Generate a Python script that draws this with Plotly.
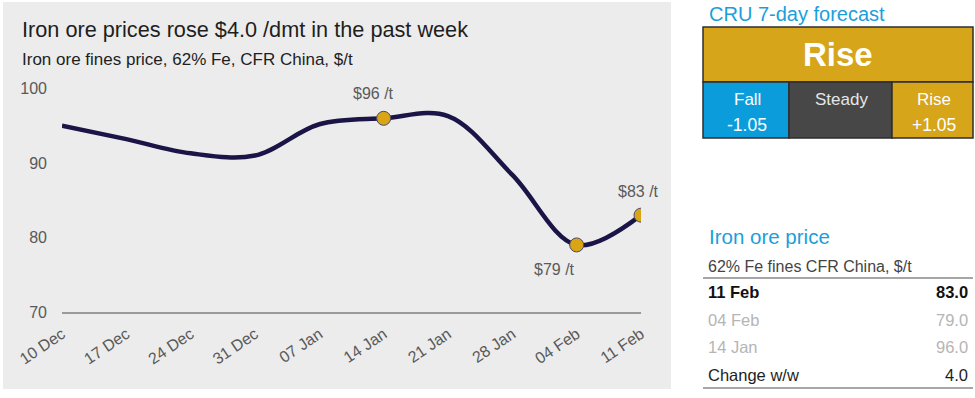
import plotly.graph_objects as go

# ---- data ----
weeks = ["10 Dec", "17 Dec", "24 Dec", "31 Dec", "07 Jan", "14 Jan", "21 Jan", "28 Jan", "04 Feb", "11 Feb"]
price = [95.0, 93.2, 91.3, 91.0, 95.2, 96.0, 96.3, 88.4, 79.0, 83.0]
marked_weeks = ["14 Jan", "04 Feb", "11 Feb"]
marked_labels = ["$96 /t", "$79 /t", "$83 /t"]
y_ticks = [70, 80, 90, 100]

title = "Iron ore prices rose $4.0 /dmt in the past week"
subtitle = "Iron ore fines price, 62% Fe, CFR China, $/t"

forecast_title = "CRU 7-day forecast"
forecast_main = "Rise"
forecast_cells = [("Fall", "-1.05"), ("Steady", ""), ("Rise", "+1.05")]

table_title = "Iron ore price"
table_sub = "62% Fe fines CFR China, $/t"
table_rows = [("11 Feb", "83.0"), ("04 Feb", "79.0"), ("14 Jan", "96.0"), ("Change w/w", "4.0")]

# ---- geometry helpers ----
W, H = 975, 398
FONT = "Liberation Sans, Arial, sans-serif"


def px(x):
    return x / W


def py(y):
    return 1 - y / H


def note(x, y, text, size, color, xa="center", ya="middle", bold=False):
    return dict(x=px(x), y=py(y), xref="paper", yref="paper",
                text=("<b>" + text + "</b>") if bold else text,
                showarrow=False, xanchor=xa, yanchor=ya,
                font=dict(family=FONT, size=size, color=color))


marked_vals = [price[weeks.index(w)] for w in marked_weeks]

fig = go.Figure()
fig.add_trace(go.Scatter(
    x=weeks, y=price, mode="lines",
    line=dict(color="#1B1547", width=4.5, shape="spline", smoothing=1.0),
    hoverinfo="skip", showlegend=False,
))
fig.add_trace(go.Scatter(
    x=marked_weeks, y=marked_vals, mode="markers",
    marker=dict(size=14, color="#D9A515", line=dict(color="#4a4a6e", width=1)),
    showlegend=False,
))

shapes = []
annotations = []

# chart panel
shapes.append(dict(type="rect", xref="paper", yref="paper",
                   x0=px(3), x1=px(671), y0=py(389), y1=py(2),
                   fillcolor="#ECECEC", line=dict(width=0), layer="below"))

# point labels
offsets = [(-10, 25), (-22, -25), (-3, 24)]
for w, v, lab, (dx, dy) in zip(marked_weeks, marked_vals, marked_labels, offsets):
    annotations.append(dict(x=w, y=v, xref="x", yref="y", text=lab, showarrow=False,
                            xshift=dx, yshift=dy, xanchor="center", yanchor="middle",
                            font=dict(family=FONT, size=16, color="#5a5a5a")))

# titles
annotations.append(note(20, 30, title, 21.7, "#1e1e1e", xa="left"))
annotations.append(note(20, 59, subtitle, 17, "#1e1e1e", xa="left"))

# ---- forecast box ----
GOLD = "#D6A51A"
BLUE = "#0B9DDB"
DARK = "#474747"
BORDER = "#2e2e2e"
annotations.append(note(707, 14, forecast_title, 20, "#1A9FDB", xa="left"))
shapes.append(dict(type="rect", xref="paper", yref="paper",
                   x0=px(703), x1=px(973), y0=py(82), y1=py(27),
                   fillcolor=GOLD, line=dict(color=BORDER, width=1.5)))
annotations.append(note(838, 55, forecast_main, 33, "white", bold=True))
cell_x = [(703, 789), (789, 892), (892, 973)]
cell_fill = [BLUE, DARK, GOLD]
cell_text_col = ["white", "#e6e6e6", "white"]
for (x0, x1), fill, col, (t1, t2) in zip(cell_x, cell_fill, cell_text_col, forecast_cells):
    shapes.append(dict(type="rect", xref="paper", yref="paper",
                       x0=px(x0), x1=px(x1), y0=py(138), y1=py(82),
                       fillcolor=fill, line=dict(color=BORDER, width=1.5)))
    cx = (x0 + x1) / 2 + 1
    annotations.append(note(cx, 100, t1, 17, col))
    if t2:
        annotations.append(note(cx, 125, t2, 17.5, col))

# ---- price table ----
annotations.append(note(707, 236, table_title, 20.5, "#1A9FDB", xa="left"))
annotations.append(note(706, 266, table_sub, 16, "#444444", xa="left"))
for yy in (278, 388):
    shapes.append(dict(type="line", xref="paper", yref="paper",
                       x0=px(703), x1=px(973), y0=py(yy), y1=py(yy),
                       line=dict(color="#a6a6a6", width=2)))
row_y = [292, 320, 347, 375]
row_col = ["#111111", "#b5b5b5", "#b5b5b5", "#1e1e1e"]
for (lab, val), yy, col, i in zip(table_rows, row_y, row_col, range(4)):
    annotations.append(note(706, yy, lab, 16.5, col, xa="left", bold=(i == 0)))
    annotations.append(note(970, yy, val, 16.5, col, xa="right", bold=(i == 0)))

fig.update_layout(
    width=W, height=H,
    margin=dict(l=0, r=0, t=0, b=0, autoexpand=False),
    paper_bgcolor="white", plot_bgcolor="rgba(0,0,0,0)",
    shapes=shapes, annotations=annotations,
    showlegend=False,
    xaxis=dict(
        domain=[px(62), px(641)], type="category", range=[0, len(weeks) - 1],
        automargin=False,
        showgrid=False, zeroline=False, showline=True, linecolor="#9a9a9a", linewidth=1.5,
        tickangle=-34, ticks="", ticklabelstandoff=5,
        tickfont=dict(family=FONT, size=16, color="#595959"),
    ),
    yaxis=dict(
        domain=[py(312), py(88.5)], range=[70, 100], tickvals=y_ticks,
        automargin=False,
        showgrid=False, zeroline=False, showline=False, ticks="",
        ticklabelstandoff=14,
        tickfont=dict(family=FONT, size=16, color="#595959"),
    ),
)

fig.write_html("out.html", config={"displayModeBar": False},
               post_script="document.body.style.margin='0';")
